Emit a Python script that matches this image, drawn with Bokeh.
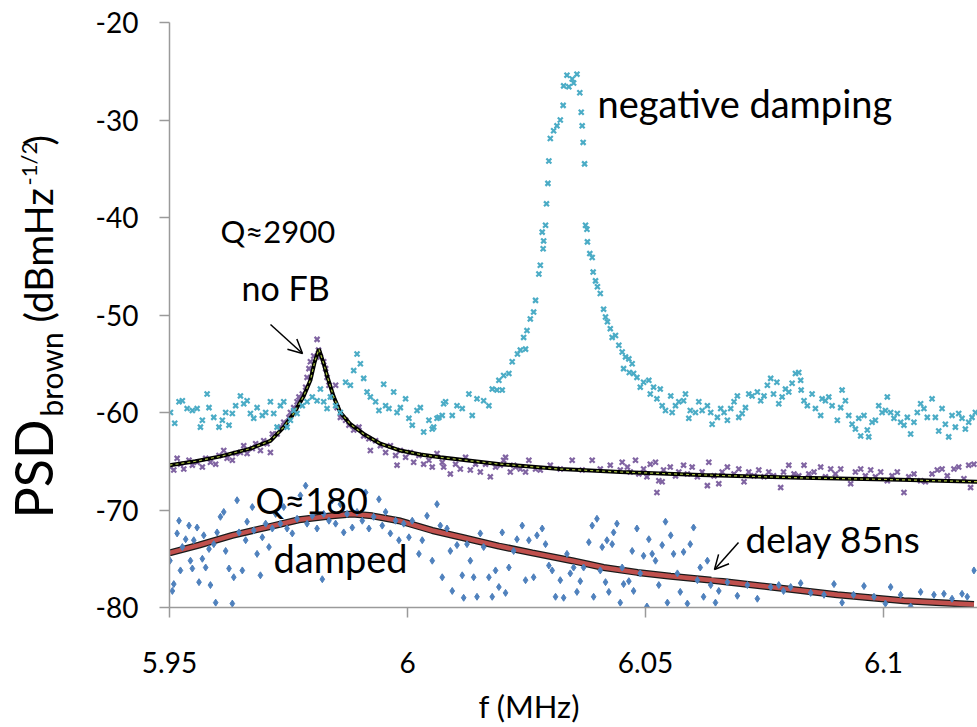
import math
from bokeh.plotting import figure
from bokeh.layouts import row, column
from bokeh.models import Range1d, Label, Arrow, OpenHead, BoxAnnotation, FixedTicker
from bokeh.embed import file_html
from bokeh.resources import INLINE

# ---------------- data ----------------
x_ticks = [5.95, 6.0, 6.05, 6.1]
x_tick_labels = ["5.95", "6", "6.05", "6.1"]
y_ticks = [-80, -70, -60, -50, -40, -30, -20]
y_tick_labels = ["-80", "-70", "-60", "-50", "-40", "-30", "-20"]

# negative damping (cyan x)
neg_f = [5.9502, 5.9511, 5.9520, 5.9527, 5.9537, 5.9548, 5.9558, 5.9565, 5.9569, 5.9579,
         5.9583, 5.9593, 5.9604, 5.9611, 5.9618, 5.9625, 5.9632, 5.9639, 5.9649, 5.9656,
         5.9663, 5.9670, 5.9677, 5.9684, 5.9695, 5.9702, 5.9712, 5.9719, 5.9726, 5.9733,
         5.9740, 5.9747, 5.9754, 5.9761, 5.9768, 5.9779, 5.9789, 5.9800, 5.9810, 5.9817,
         5.9824, 5.9831, 5.9838, 5.9849, 5.9859, 5.9870, 5.9880, 5.9887, 5.9894, 5.9901,
         5.9908, 5.9915, 5.9922, 5.9933, 5.9940, 5.9950, 5.9954, 5.9961, 5.9971, 5.9978,
         5.9985, 5.9996, 6.0003, 6.0010, 6.0020, 6.0027, 6.0034, 6.0045, 6.0052, 6.0055,
         6.0062, 6.0066, 6.0073, 6.0076, 6.0080, 6.0094, 6.0104, 6.0115, 6.0129, 6.0136,
         6.0146, 6.0160, 6.0171, 6.0178, 6.0188, 6.0192, 6.0199, 6.0202, 6.0213, 6.0220,
         6.0231, 6.0237, 6.0244, 6.0248, 6.0251, 6.0258, 6.0265, 6.0269, 6.0276, 6.0279,
         6.0283, 6.0285, 6.0286, 6.0290, 6.0292, 6.0295, 6.0297, 6.0300, 6.0307, 6.0314,
         6.0321, 6.0327, 6.0328, 6.0335, 6.0339, 6.0346, 6.0349, 6.0356, 6.0362, 6.0365,
         6.0367, 6.0369, 6.0372, 6.0374, 6.0377, 6.0378, 6.0383, 6.0388, 6.0390, 6.0395,
         6.0399, 6.0405, 6.0412, 6.0416, 6.0420, 6.0426, 6.0430, 6.0437, 6.0444, 6.0451,
         6.0454, 6.0458, 6.0465, 6.0466, 6.0472, 6.0475, 6.0482, 6.0489, 6.0496, 6.0507,
         6.0510, 6.0517, 6.0524, 6.0531, 6.0535, 6.0542, 6.0553, 6.0556, 6.0563, 6.0570,
         6.0580, 6.0584, 6.0591, 6.0594, 6.0605, 6.0612, 6.0619, 6.0630, 6.0637, 6.0640,
         6.0651, 6.0658, 6.0665, 6.0672, 6.0679, 6.0686, 6.0693, 6.0696, 6.0703, 6.0710,
         6.0717, 6.0724, 6.0735, 6.0742, 6.0749, 6.0756, 6.0763, 6.0769, 6.0776, 6.0780,
         6.0787, 6.0794, 6.0801, 6.0808, 6.0815, 6.0822, 6.0826, 6.0827, 6.0833, 6.0840,
         6.0850, 6.0857, 6.0868, 6.0871, 6.0878, 6.0885, 6.0892, 6.0903, 6.0910, 6.0913,
         6.0920, 6.0927, 6.0934, 6.0941, 6.0948, 6.0952, 6.0959, 6.0966, 6.0969, 6.0976,
         6.0983, 6.0990, 6.0997, 6.1004, 6.1008, 6.1015, 6.1022, 6.1029, 6.1036, 6.1043,
         6.1050, 6.1057, 6.1064, 6.1071, 6.1078, 6.1085, 6.1092, 6.1102, 6.1109, 6.1116,
         6.1123, 6.1130, 6.1137, 6.1144, 6.1151, 6.1158, 6.1165, 6.1172, 6.1179, 6.1186,
         6.1193]
neg_v = [-60.0, -61.1, -58.9, -58.8, -59.6, -59.8, -59.6, -61.5, -60.8, -58.1,
         -59.5, -60.5, -61.5, -60.8, -60.0, -61.3, -60.1, -59.3, -58.3, -59.1,
         -58.8, -60.1, -60.6, -59.5, -60.3, -60.0, -58.9, -60.1, -61.5, -59.3,
         -58.9, -61.5, -60.8, -59.8, -60.1, -59.3, -58.9, -58.4, -58.8, -57.6,
         -58.9, -59.6, -58.4, -59.3, -60.0, -56.9, -57.2, -55.7, -54.0, -55.0,
         -56.5, -57.9, -58.4, -58.9, -59.8, -57.1, -59.3, -59.6, -57.9, -60.0,
         -59.5, -58.6, -60.6, -61.3, -59.8, -59.5, -62.0, -60.8, -61.7, -61.5,
         -60.6, -60.5, -60.3, -59.1, -58.9, -60.3, -59.3, -59.6, -58.1, -60.3,
         -58.6, -58.8, -59.3, -57.6, -57.7, -56.7, -57.7, -56.2, -56.0, -54.8,
         -54.0, -53.6, -52.3, -53.5, -51.6, -50.4, -49.7, -48.5, -45.8, -44.9,
         -41.5, -43.2, -42.4, -40.8, -38.6, -36.5, -34.2, -31.9, -31.1, -30.6,
         -30.0, -28.5, -26.5, -25.4, -26.6, -25.8, -26.2, -25.3, -27.2, -29.2,
         -30.6, -32.3, -34.5, -40.8, -41.2, -42.5, -43.7, -44.1, -45.6, -46.5,
         -47.1, -47.8, -49.4, -50.2, -50.7, -51.4, -52.3, -52.1, -53.1, -53.8,
         -55.5, -54.3, -54.5, -55.9, -55.0, -56.0, -56.4, -57.4, -56.9, -56.7,
         -58.1, -57.4, -58.6, -57.6, -59.3, -59.8, -58.3, -60.0, -59.3, -58.9,
         -58.8, -58.1, -60.6, -59.8, -60.0, -58.9, -59.8, -59.3, -60.0, -61.2,
         -60.5, -59.6, -60.0, -60.8, -59.6, -58.9, -58.3, -60.5, -60.1, -59.5,
         -58.1, -58.3, -57.9, -58.8, -58.3, -57.2, -56.5, -58.1, -56.9, -59.1,
         -58.4, -57.6, -57.9, -57.0, -56.0, -55.9, -56.7, -57.7, -58.8, -59.3,
         -58.1, -59.6, -60.3, -58.6, -58.8, -58.4, -59.3, -60.8, -59.5, -57.7,
         -58.8, -60.3, -61.2, -61.7, -60.6, -62.4, -60.3, -61.8, -62.5, -61.0,
         -60.8, -59.3, -60.0, -59.8, -58.4, -60.0, -60.6, -60.1, -61.0, -61.3,
         -60.5, -62.2, -61.0, -60.0, -59.1, -59.6, -60.5, -58.6, -60.5, -61.9,
         -59.6, -61.2, -62.5, -60.3, -61.5, -60.1, -60.6, -61.7, -61.0, -60.5,
         -60.0]

# no feedback (purple x)
nofb_f = [5.9502, 5.9509, 5.9516, 5.9523, 5.9530, 5.9541, 5.9548, 5.9558, 5.9569, 5.9576,
          5.9586, 5.9597, 5.9604, 5.9614, 5.9621, 5.9632, 5.9639, 5.9649, 5.9656, 5.9663,
          5.9674, 5.9681, 5.9691, 5.9698, 5.9705, 5.9712, 5.9716, 5.9726, 5.9733, 5.9740,
          5.9751, 5.9754, 5.9761, 5.9768, 5.9772, 5.9779, 5.9786, 5.9789, 5.9793, 5.9796,
          5.9803, 5.9810, 5.9813, 5.9817, 5.9824, 5.9828, 5.9831, 5.9835, 5.9842, 5.9849,
          5.9852, 5.9859, 5.9870, 5.9877, 5.9887, 5.9898, 5.9908, 5.9919, 5.9922, 5.9933,
          5.9943, 5.9954, 5.9964, 5.9975, 5.9978, 5.9985, 5.9996, 6.0006, 6.0013, 6.0024,
          6.0034, 6.0045, 6.0052, 6.0062, 6.0073, 6.0076, 6.0090, 6.0101, 6.0111, 6.0122,
          6.0132, 6.0143, 6.0153, 6.0164, 6.0174, 6.0185, 6.0195, 6.0202, 6.0206, 6.0216,
          6.0223, 6.0227, 6.0237, 6.0248, 6.0255, 6.0269, 6.0279, 6.0300, 6.0321, 6.0346,
          6.0367, 6.0388, 6.0405, 6.0426, 6.0447, 6.0451, 6.0462, 6.0468, 6.0479, 6.0486,
          6.0496, 6.0503, 6.0510, 6.0521, 6.0524, 6.0528, 6.0535, 6.0538, 6.0552, 6.0563,
          6.0570, 6.0580, 6.0588, 6.0598, 6.0609, 6.0619, 6.0630, 6.0633, 6.0644, 6.0654,
          6.0661, 6.0672, 6.0686, 6.0696, 6.0707, 6.0717, 6.0728, 6.0738, 6.0749, 6.0759,
          6.0769, 6.0784, 6.0790, 6.0801, 6.0812, 6.0822, 6.0833, 6.0843, 6.0854, 6.0868,
          6.0878, 6.0889, 6.0899, 6.0910, 6.0931, 6.0941, 6.0952, 6.0962, 6.0973, 6.0983,
          6.0994, 6.1008, 6.1018, 6.1029, 6.1043, 6.1053, 6.1064, 6.1078, 6.1088, 6.1102,
          6.1113, 6.1123, 6.1134, 6.1148, 6.1158, 6.1169, 6.1179, 6.1183, 6.1190]
nofb_v = [-65.6, -65.9, -64.7, -65.3, -65.8, -64.9, -65.4, -65.1, -65.6, -64.7,
          -65.1, -65.3, -64.4, -63.9, -64.7, -64.9, -64.2, -64.1, -63.4, -64.2,
          -63.7, -63.2, -63.9, -62.9, -63.2, -64.1, -62.2, -62.2, -61.5, -61.0,
          -60.5, -60.0, -59.5, -58.9, -58.4, -58.1, -57.4, -56.4, -55.5, -54.8,
          -54.2, -52.5, -53.6, -54.3, -54.8, -55.5, -56.4, -57.2, -58.4, -57.2,
          -59.5, -60.5, -60.8, -61.3, -61.8, -61.5, -62.4, -62.7, -63.9, -62.9,
          -63.4, -64.1, -63.4, -64.4, -65.4, -63.9, -64.6, -64.1, -65.1, -64.4,
          -65.3, -64.9, -65.6, -64.2, -65.1, -65.6, -66.3, -65.3, -65.8, -64.6,
          -65.9, -65.3, -66.1, -65.3, -66.6, -65.6, -65.4, -64.9, -64.6, -66.1,
          -65.4, -65.6, -65.8, -66.1, -64.9, -65.8, -65.9, -65.4, -65.8, -64.9,
          -65.9, -64.9, -65.8, -65.4, -65.9, -65.1, -65.6, -66.1, -64.9, -66.3,
          -65.8, -66.6, -65.3, -65.1, -68.2, -67.0, -67.1, -65.9, -65.6, -66.5,
          -66.1, -65.4, -66.3, -65.6, -66.6, -66.1, -67.5, -65.1, -66.5, -67.3,
          -66.1, -65.6, -66.3, -65.8, -67.1, -66.1, -66.5, -65.9, -66.6, -66.1,
          -66.5, -67.7, -66.1, -65.4, -66.3, -66.5, -65.4, -66.3, -66.1, -65.6,
          -66.6, -65.8, -66.3, -65.8, -67.3, -66.1, -65.8, -66.5, -65.9, -66.6,
          -66.1, -67.0, -66.5, -66.1, -68.2, -66.6, -66.3, -67.0, -67.1, -66.3,
          -65.9, -65.8, -66.5, -65.8, -65.6, -66.8, -65.4, -67.7, -65.3]

# Lorentzian fit of the no-feedback peak (Q~2900), black line
nofb_fit_f = [5.9500, 5.9555, 5.9607, 5.9670, 5.9712, 5.9740, 5.9761, 5.9782, 5.9796, 5.9805,
              5.9814, 5.9824, 5.9832, 5.9845, 5.9859, 5.9880, 5.9908, 5.9943, 5.9985, 6.0027,
              6.0069, 6.0195, 6.0321, 6.0447, 6.0616, 6.0826, 6.1036, 6.1197]
nofb_fit_v = [-65.4, -65.0, -64.5, -63.7, -62.9, -61.5, -60.1, -58.3, -56.7, -54.8,
              -53.5, -55.0, -56.4, -58.4, -60.0, -61.2, -62.2, -63.2, -63.9, -64.3,
              -64.6, -65.3, -65.8, -66.1, -66.4, -66.7, -66.9, -67.1]

# damped (blue diamonds)
damp_f = [5.9501, 5.9509, 5.9506, 5.9516, 5.9520, 5.9523, 5.9527, 5.9534, 5.9541, 5.9544,
          5.9548, 5.9551, 5.9558, 5.9562, 5.9569, 5.9572, 5.9576, 5.9583, 5.9586, 5.9593,
          5.9597, 5.9600, 5.9607, 5.9614, 5.9618, 5.9625, 5.9632, 5.9635, 5.9642, 5.9646,
          5.9653, 5.9660, 5.9663, 5.9674, 5.9677, 5.9684, 5.9691, 5.9695, 5.9702, 5.9709,
          5.9716, 5.9723, 5.9733, 5.9740, 5.9747, 5.9758, 5.9768, 5.9775, 5.9786, 5.9789,
          5.9800, 5.9810, 5.9821, 5.9824, 5.9835, 5.9842, 5.9849, 5.9859, 5.9866, 5.9873,
          5.9884, 5.9894, 5.9905, 5.9912, 5.9919, 5.9929, 5.9940, 5.9947, 5.9954, 5.9964,
          5.9975, 5.9982, 5.9992, 6.0003, 6.0010, 6.0024, 6.0031, 6.0041, 6.0052, 6.0062,
          6.0069, 6.0073, 6.0083, 6.0090, 6.0094, 6.0104, 6.0115, 6.0118, 6.0125, 6.0132,
          6.0139, 6.0146, 6.0153, 6.0160, 6.0171, 6.0178, 6.0185, 6.0192, 6.0199, 6.0206,
          6.0213, 6.0223, 6.0230, 6.0241, 6.0248, 6.0255, 6.0265, 6.0272, 6.0283, 6.0290,
          6.0297, 6.0304, 6.0311, 6.0321, 6.0328, 6.0335, 6.0342, 6.0349, 6.0356, 6.0363,
          6.0370, 6.0381, 6.0388, 6.0391, 6.0398, 6.0405, 6.0409, 6.0416, 6.0419, 6.0423,
          6.0430, 6.0433, 6.0440, 6.0447, 6.0451, 6.0454, 6.0465, 6.0472, 6.0475, 6.0482,
          6.0489, 6.0496, 6.0503, 6.0507, 6.0514, 6.0521, 6.0528, 6.0535, 6.0542, 6.0546,
          6.0553, 6.0559, 6.0567, 6.0573, 6.0580, 6.0588, 6.0594, 6.0601, 6.0609, 6.0615,
          6.0622, 6.0630, 6.0637, 6.0647, 6.0654, 6.0672, 6.0693, 6.0714, 6.0735, 6.0763,
          6.0780, 6.0790, 6.0805, 6.0826, 6.0847, 6.0875, 6.0896, 6.0913, 6.0937, 6.0959,
          6.0980, 6.1004, 6.1015, 6.1036, 6.1057, 6.1078, 6.1106, 6.1127, 6.1144, 6.1165,
          6.1176, 6.1190]
damp_v = [-75.2, -77.6, -78.3, -72.4, -71.1, -76.2, -73.8, -73.0, -71.6, -75.2,
          -76.0, -73.1, -71.8, -77.4, -75.0, -72.6, -75.9, -74.0, -77.7, -73.5,
          -79.5, -72.3, -70.7, -70.2, -74.2, -76.0, -79.6, -76.9, -69.0, -72.3,
          -76.2, -73.1, -71.2, -69.7, -72.1, -74.5, -76.7, -72.8, -71.4, -73.8,
          -71.9, -70.4, -71.4, -69.7, -71.9, -72.4, -70.9, -68.5, -67.5, -71.4,
          -70.6, -71.9, -77.1, -70.4, -71.1, -69.0, -71.4, -69.4, -72.3, -70.4,
          -71.8, -70.2, -71.1, -68.2, -71.9, -70.7, -68.9, -71.6, -70.2, -72.4,
          -71.1, -73.1, -71.4, -72.8, -71.1, -74.5, -73.1, -70.6, -75.2, -69.4,
          -71.6, -76.9, -71.9, -74.2, -78.3, -73.6, -76.7, -79.0, -73.5, -75.2,
          -76.9, -78.9, -72.4, -73.8, -76.9, -78.9, -76.2, -77.9, -72.3, -78.5,
          -75.9, -74.2, -73.0, -71.6, -77.2, -73.1, -76.9, -72.6, -71.9, -73.5,
          -75.7, -76.2, -78.9, -77.2, -79.0, -74.5, -76.5, -75.9, -78.4, -77.3,
          -75.9, -73.3, -71.6, -78.9, -70.9, -76.2, -73.8, -77.4, -73.1, -78.4,
          -73.5, -72.3, -71.4, -79.5, -75.9, -77.6, -77.3, -74.2, -78.3, -71.9,
          -76.5, -74.7, -79.9, -73.0, -74.5, -75.2, -77.7, -73.6, -71.2, -79.5,
          -72.6, -74.5, -76.5, -78.4, -74.3, -79.6, -73.5, -71.8, -77.2, -75.9,
          -78.9, -75.2, -77.7, -79.5, -78.3, -77.4, -78.8, -77.7, -79.1, -77.9,
          -77.7, -78.3, -77.9, -77.5, -78.5, -78.7, -77.6, -79.5, -78.7, -77.8,
          -78.9, -79.6, -77.9, -78.7, -79.9, -78.4, -78.7, -78.6, -79.1, -78.6,
          -78.9, -76.2]

# fit of the damped response (Q~180), red line
damp_fit_f = [5.9500, 5.9562, 5.9632, 5.9702, 5.9772, 5.9842, 5.9884, 5.9926, 5.9982, 6.0052,
              6.0122, 6.0192, 6.0262, 6.0346, 6.0412, 6.0483, 6.0553, 6.0640, 6.0763, 6.0903,
              6.1043, 6.1190]
damp_fit_v = [-74.4, -73.6, -72.6, -71.8, -71.0, -70.6, -70.4, -70.6, -71.1, -72.1,
              -72.9, -73.7, -74.4, -75.2, -75.9, -76.4, -76.8, -77.2, -77.9, -78.7,
              -79.3, -79.7]

# ---------------- layout (page pixels) ----------------
W, H = 977, 727            # whole page
WL = 80                    # strip at the left holding the y-axis title
H1 = 686                   # height of the main figure; below it the x-axis title strip
FR_L, FR_R, FR_T, FR_B = 169, 977, 22, 607      # frame edges on the page
X0 = 5.95
X1 = 5.95 + (FR_R - FR_L) / 4760.0
Y0, Y1 = -80, -20
FONT = "Lato"
BASE_SHIFT = 0.37          # empirical offset between requested and drawn baseline (em)

def fx(px):
    return X0 + (px - FR_L) * (X1 - X0) / (FR_R - FR_L)

def fy(py):
    return Y1 - (py - FR_T) * (Y1 - Y0) / (FR_B - FR_T)

p = figure(width=W - WL, height=H1, x_range=Range1d(X0, X1), y_range=Range1d(Y0, Y1),
           output_backend="svg", toolbar_location=None, title=None,
           min_border_left=FR_L - WL, min_border_right=W - FR_R,
           min_border_top=FR_T, min_border_bottom=H1 - FR_B)
p.outline_line_color = None
p.grid.visible = False

AX_COL = "#9a9a9a"
for ax in (p.xaxis[0], p.yaxis[0]):
    ax.axis_line_color = AX_COL
    ax.axis_line_width = 1.5
    ax.major_tick_line_color = AX_COL
    ax.major_tick_line_width = 1.5
    ax.major_tick_out = 10
    ax.major_tick_in = 0
    ax.minor_tick_out = 0
    ax.minor_tick_in = 0
    ax.major_label_text_font = FONT
    ax.major_label_text_color = "black"

p.xaxis.ticker = FixedTicker(ticks=x_ticks)
p.xaxis.major_label_overrides = {t: s for t, s in zip(x_ticks, x_tick_labels)}
p.xaxis.major_label_text_font_size = "28px"
p.xaxis.major_label_standoff = 34
p.yaxis.ticker = FixedTicker(ticks=y_ticks)
p.yaxis.major_label_overrides = {t: s for t, s in zip(y_ticks, y_tick_labels)}
p.yaxis.major_label_text_font_size = "28px"
p.yaxis.major_label_standoff = 21

# ---------------- series ----------------
RED = "#c0504d"
p.line(damp_fit_f, damp_fit_v, line_color="#1a1a1a", line_width=7)
p.line(damp_fit_f, damp_fit_v, line_color=RED, line_width=4.5)
p.scatter(damp_f, damp_v, marker="diamond", size=7, fill_color="#4f81bd", line_color="#4f81bd")

p.scatter(nofb_f, nofb_v, marker="x", size=7, line_color="#8064a2", line_width=2.2)
p.line(nofb_fit_f, nofb_fit_v, line_color="black", line_width=4)
p.line(nofb_fit_f, nofb_fit_v, line_color="#a8c040", line_width=1.2, line_dash="3 3")

p.scatter(neg_f, neg_v, marker="x", size=7, line_color="#4bacc6", line_width=2.2)

# white text box behind "delay 85ns"
p.add_layout(BoxAnnotation(left=fx(711), right=fx(971), top=fy(503), bottom=fy(577),
                           fill_color="white", fill_alpha=1.0, line_alpha=0))

def add_label(fig, text, x, y, size, angle=0.0):
    fig.add_layout(Label(x=x, y=y, text=text, text_font=FONT,
                         text_font_size=f"{size}px", text_color="black",
                         text_align="left", text_baseline="alphabetic", angle=angle))

def main_label(text, px, py, size):
    add_label(p, text, fx(px), fy(py - BASE_SHIFT * size), size)

main_label("negative damping", 597, 117, 38)
main_label("Q\u22482900", 220, 242, 31)
main_label("no FB", 241, 300, 34)
main_label("Q\u2248180", 255, 513, 36)
main_label("damped", 273, 572, 38)
main_label("delay 85ns", 745, 552, 37)

p.add_layout(Arrow(end=OpenHead(size=14, line_width=1.5, line_color="black"),
                   x_start=fx(270), y_start=fy(324), x_end=fx(302), y_end=fy(353),
                   line_width=1.5, line_color="black"))
p.add_layout(Arrow(end=OpenHead(size=14, line_width=1.5, line_color="black"),
                   x_start=fx(738), y_start=fy(542), x_end=fx(714), y_end=fy(569),
                   line_width=1.5, line_color="black"))

# ---------------- y-axis title strip (page pixel coordinates, y flipped) ----------------
ylab = figure(width=WL, height=H, x_range=Range1d(0, WL), y_range=Range1d(0, H),
              output_backend="svg", toolbar_location=None, x_axis_type=None,
              y_axis_type=None, min_border=0, title=None)
ylab.outline_line_color = None
ylab.grid.visible = False
R = math.pi / 2

def y_title(text, px_base, py_start, size):
    add_label(ylab, text, px_base - BASE_SHIFT * size, H - py_start, size, angle=R)

y_title("PSD", 52, 518, 52)
y_title("brown", 62, 416, 30)
y_title("(dBmHz", 52, 322, 39)
y_title("-1/2", 36, 185, 22)
y_title(")", 52, 145, 39)

# ---------------- x-axis title strip: same horizontal frame as the main plot ----------------
H2 = H - H1
xlab = figure(width=W - WL, height=H2, x_range=Range1d(X0, X1), y_range=Range1d(H1, H),
              output_backend="svg", toolbar_location=None, x_axis_type=None,
              y_axis_type=None, title=None,
              min_border_left=FR_L - WL, min_border_right=W - FR_R,
              min_border_top=0, min_border_bottom=0)
xlab.outline_line_color = None
xlab.grid.visible = False
add_label(xlab, "f (MHz)", fx(478), H1 + H - (717 - BASE_SHIFT * 31), 31)

layout = row(ylab, column(p, xlab))
open("out.html", "w").write(file_html(layout, INLINE))
